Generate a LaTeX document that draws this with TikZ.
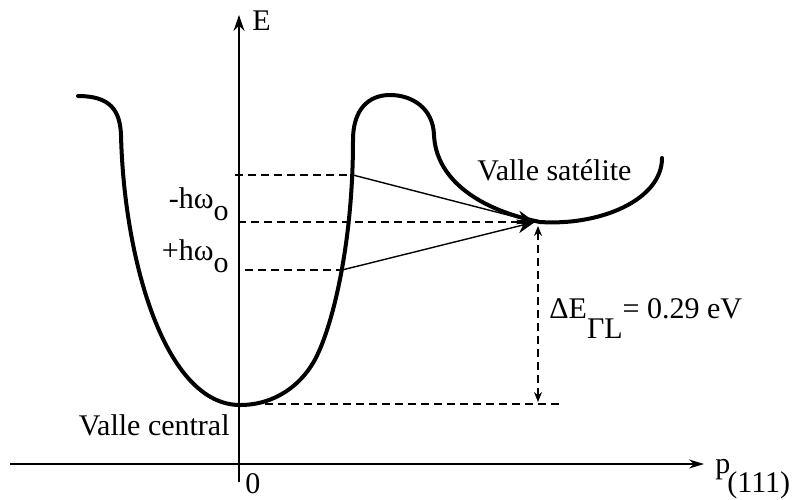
\documentclass[tikz,border=0pt]{standalone}
\usepackage{fontspec}
\setmainfont{Liberation Serif}
\usetikzlibrary{arrows.meta}
\newcommand\lowsub[2][0.4em]{\raisebox{-#1}{#2}}

\begin{document}
\begin{tikzpicture}[x=0.5pt,y=-0.5pt,
    lbl/.style={font=\fontsize{15}{18}\selectfont, inner sep=0pt},
    axis/.style={line width=0.7pt},
    guide/.style={line width=0.7pt, dash pattern=on 4pt off 2.5pt},
    band/.style={line width=2pt, line cap=round, line join=round}]
    \useasboundingbox (0,0) rectangle (802,499);

    % Nodes
    \coordinate (pleft) at (10,464);
    \coordinate (pright) at (704,464);
    \coordinate (ebot) at (239,482);
    \coordinate (etop) at (239,15);
    \coordinate (hi) at (353,175);
    \coordinate (lo) at (342,270);
    \coordinate (sat) at (535,222);
    \coordinate (hiaxis) at (235,175);
    \coordinate (midaxis) at (238,222);
    \coordinate (loaxis) at (245,270);
    \coordinate (cmin) at (265,404);
    \coordinate (cend) at (560,404);
    \coordinate (gtop) at (538,226);
    \coordinate (gbot) at (538,402);

    \node[lbl, anchor=base west] (E) at (252,30) {E};
    \node[lbl, anchor=base west] (P) at (715,473) {p\kern-0.1em\lowsub[0.65em]{(111)}};
    \node[lbl, anchor=base west] (zero) at (245,493) {0};
    \node[lbl, anchor=base east] (minus) at (229,208) {-hω\lowsub{o}};
    \node[lbl, anchor=base east] (plus) at (229,260) {+hω\lowsub{o}};
    \node[lbl, anchor=base west] (sattxt) at (477,180) {Valle satélite};
    \node[lbl, anchor=base east] (centxt) at (230,435) {Valle central};
    \node[lbl, anchor=base west] (gap) at (549,318) {ΔE\lowsub[0.67em]{ΓL}= 0.29 eV};

    % Axes
    \draw[axis, -{Stealth[length=7.5pt, width=4.5pt]}] (pleft) -- (pright);
    \draw[axis, -{Stealth[length=8pt, width=5.5pt]}] (ebot) -- (etop);

    % Bands
    \draw[band] (78,96) .. controls (110,96) and (120,110) .. (121,135)
        .. controls (124,260) and (165,405) .. (240,405)
        .. controls (275,405) and (300,385) .. (313,363)
        .. controls (330,335) and (353,250) .. (353,140)
        .. controls (353,110) and (368,95) .. (390,95)
        .. controls (412,95) and (433,108) .. (434,135)
        .. controls (436,180) and (480,210) .. (540,222)
        .. controls (600,226) and (662,200) .. (662,158);

    % Guides
    \draw[guide] (hiaxis) -- (hi);
    \draw[guide] (midaxis) -- (sat);
    \draw[guide] (loaxis) -- (lo);
    \draw[guide] (cmin) -- (cend);
    \draw[guide, {Stealth[length=5pt, width=4pt]}-{Stealth[length=5pt, width=4pt]}] (gtop) -- (gbot);

    % Arrows
    \draw[axis, -{Stealth[length=9pt, width=7pt]}] (hi) -- (sat);
    \draw[axis, -{Stealth[length=9pt, width=7pt]}] (lo) -- (sat);
\end{tikzpicture}
\end{document}
